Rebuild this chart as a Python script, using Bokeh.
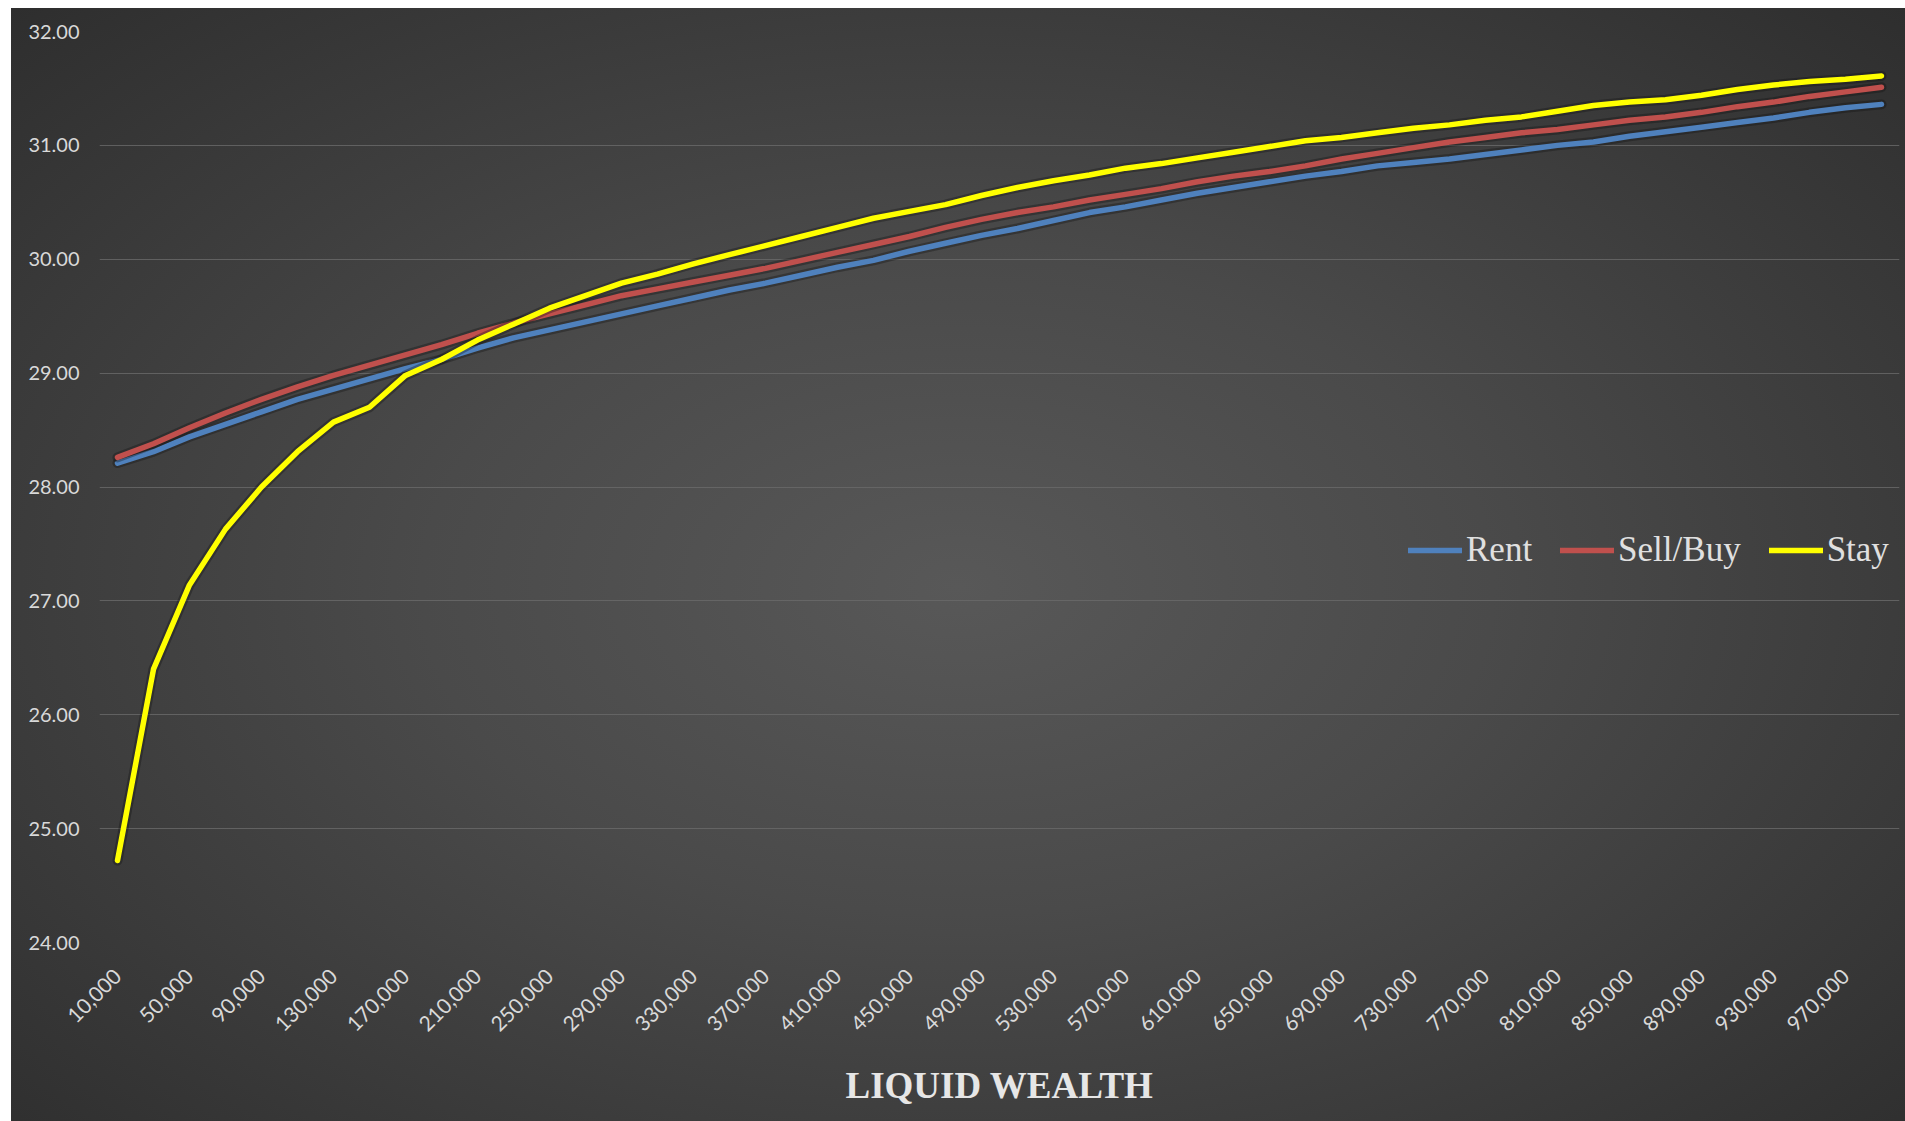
import math
from bokeh.plotting import figure
from bokeh.models import (Range1d, FixedTicker, NumeralTickFormatter, Legend,
                          LegendItem, InlineStyleSheet, ColumnDataSource)
from bokeh.embed import file_html
from bokeh.resources import INLINE

# ---- data ----
wealth = list(range(10000, 1000000, 20000))   # liquid wealth categories (50)
tick_values = wealth[::2]                      # labelled every other category
y_ticks = [24, 25, 26, 27, 28, 29, 30, 31, 32]

rent = [28.21, 28.31, 28.44, 28.55, 28.66, 28.77, 28.86, 28.95, 29.04, 29.12,
        29.22, 29.31, 29.38, 29.45, 29.52, 29.59, 29.66, 29.73, 29.79, 29.86,
        29.93, 29.99, 30.07, 30.14, 30.21, 30.27, 30.34, 30.41, 30.46, 30.52,
        30.58, 30.63, 30.68, 30.73, 30.77, 30.82, 30.85, 30.88, 30.92, 30.96,
        31.00, 31.03, 31.08, 31.12, 31.16, 31.20, 31.24, 31.29, 31.33, 31.36]

sell_buy = [28.26, 28.38, 28.52, 28.65, 28.77, 28.88, 28.98, 29.07, 29.16, 29.25,
            29.35, 29.44, 29.52, 29.60, 29.68, 29.74, 29.80, 29.86, 29.92, 29.99,
            30.06, 30.13, 30.20, 30.28, 30.35, 30.41, 30.46, 30.52, 30.57, 30.62,
            30.68, 30.73, 30.77, 30.82, 30.88, 30.93, 30.98, 31.03, 31.07, 31.11,
            31.14, 31.18, 31.22, 31.25, 31.29, 31.34, 31.38, 31.43, 31.47, 31.51]

stay = [24.72, 26.40, 27.14, 27.63, 28.00, 28.31, 28.57, 28.70, 28.98, 29.12,
        29.29, 29.43, 29.57, 29.68, 29.79, 29.87, 29.96, 30.04, 30.12, 30.20,
        30.28, 30.36, 30.42, 30.48, 30.56, 30.63, 30.69, 30.74, 30.80, 30.84,
        30.89, 30.94, 30.99, 31.04, 31.07, 31.11, 31.15, 31.18, 31.22, 31.25,
        31.30, 31.35, 31.38, 31.40, 31.44, 31.49, 31.53, 31.56, 31.58, 31.61]

series_names = ["Rent", "Sell/Buy", "Stay"]
series_colors = ["#4f81bd", "#c0504d", "#ffff00"]

# ---- figure ----
p = figure(width=1894, height=1113, output_backend="svg", toolbar_location=None,
           x_range=Range1d(0, 1000000), y_range=Range1d(24, 32),
           min_border_left=88, min_border_right=6, min_border_top=23,
           min_border_bottom=179)
p.background_fill_color = None
p.border_fill_color = None
p.outline_line_color = None
p.stylesheets = [InlineStyleSheet(css=(
    ":host { background: radial-gradient(ellipse at 50% 52%, #585858 0%, "
    "#4a4a4a 40%, #2e2e2e 100%); margin-left: 11px; margin-top: 8px; }"))]

src = ColumnDataSource(dict(wealth=wealth, rent=rent, sell_buy=sell_buy, stay=stay))
keys = ["rent", "sell_buy", "stay"]

renderers = []
for k, c in zip(keys, series_colors):
    p.line("wealth", k, source=src, line_color="#101010", line_alpha=0.35,
           line_width=10, line_cap="round", line_join="round")
    r = p.line("wealth", k, source=src, line_color=c, line_width=5.5,
               line_cap="round", line_join="round")
    renderers.append(r)

# axes
p.xaxis.ticker = FixedTicker(ticks=tick_values)
p.xaxis.formatter = NumeralTickFormatter(format="0,0")
p.xaxis.major_label_orientation = math.pi / 4
p.xaxis.major_label_text_font = "Lato"
p.xaxis.major_label_text_font_size = "21px"
p.xaxis.major_label_text_color = "#d9d9d9"
p.xaxis.major_label_standoff = 30
p.xaxis.axis_line_color = None
p.xaxis.major_tick_line_color = None
p.xaxis.minor_tick_line_color = None
p.xaxis.major_tick_out = 0
p.xaxis.axis_label = "LIQUID WEALTH"
p.xaxis.axis_label_text_font = "Liberation Serif"
p.xaxis.axis_label_text_font_size = "37px"
p.xaxis.axis_label_text_font_style = "bold"
p.xaxis.axis_label_text_color = "#e6e6e6"
p.xaxis.axis_label_standoff = 24

p.yaxis.ticker = FixedTicker(ticks=y_ticks)
p.yaxis.formatter = NumeralTickFormatter(format="0.00")
p.yaxis.major_label_text_font = "Lato"
p.yaxis.major_label_text_font_size = "20px"
p.yaxis.major_label_text_color = "#d9d9d9"
p.yaxis.major_label_standoff = 20
p.yaxis.axis_line_color = None
p.yaxis.major_tick_line_color = None
p.yaxis.minor_tick_line_color = None
p.yaxis.major_tick_out = 0

p.xgrid.grid_line_color = None
p.ygrid.grid_line_color = "#6a6a6a"
p.ygrid.grid_line_width = 1
p.ygrid.grid_line_alpha = 0.8

legend = Legend(items=[LegendItem(label=n, renderers=[r])
                       for n, r in zip(series_names, renderers)],
                orientation="horizontal", location=(1309, 372))
legend.background_fill_alpha = 0
legend.border_line_alpha = 0
legend.label_text_font = "Liberation Serif"
legend.label_text_font_size = "35px"
legend.label_text_color = "#e0e0e0"
legend.glyph_width = 54
legend.glyph_height = 20
legend.label_standoff = 4
legend.spacing = 28
legend.padding = 0
legend.margin = 0
p.add_layout(legend)

open("out.html", "w").write(file_html(p, INLINE))
